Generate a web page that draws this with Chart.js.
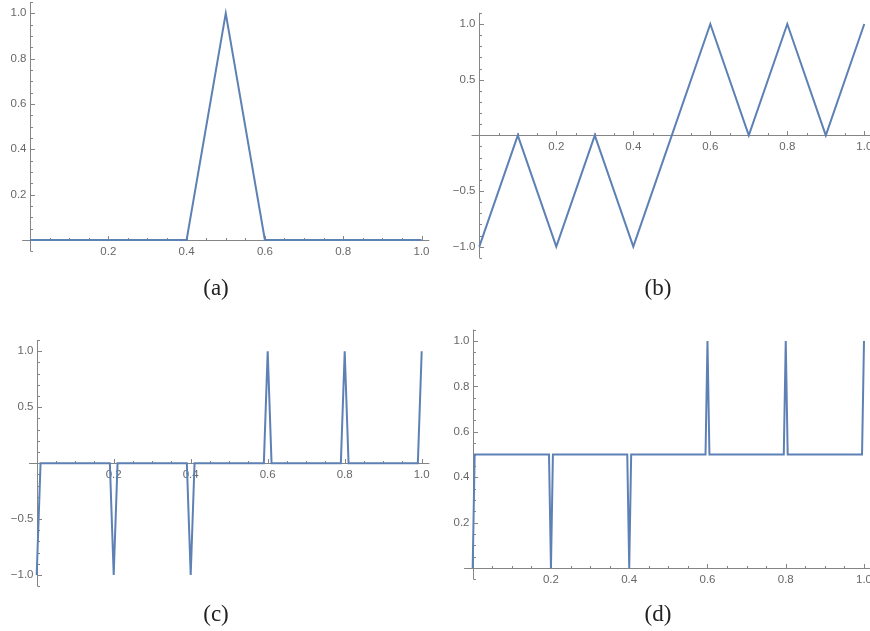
<!DOCTYPE html>
<html>
<head>
<meta charset="utf-8">
<script src="https://cdn.jsdelivr.net/npm/chart.js@4/dist/chart.umd.min.js"></script>
<style>
  html, body { margin: 0; padding: 0; background: #fff; }
  body { width: 870px; height: 631px; position: relative; overflow: hidden; }
  canvas { position: absolute; }
  .cap { position: absolute; font-family: "Liberation Serif", "DejaVu Serif", serif; font-size: 23px; color: #222;
         transform: translate(-50%, -50%); white-space: nowrap; }
</style>
</head>
<body>
<canvas id="ca" width="435" height="300" style="left:0px;top:0px"></canvas>
<canvas id="cb" width="435" height="300" style="left:435px;top:0px"></canvas>
<canvas id="cc" width="435" height="316" style="left:0px;top:315px"></canvas>
<canvas id="cd" width="435" height="316" style="left:435px;top:315px"></canvas>
<div class="cap" style="left:216px;top:288px">(a)</div>
<div class="cap" style="left:658px;top:288px">(b)</div>
<div class="cap" style="left:216px;top:614px">(c)</div>
<div class="cap" style="left:658px;top:614px">(d)</div>
<script>
// ---------- data ----------
const xA = [0, 0.4, 0.5, 0.6, 1.0];
const yA = [0, 0, 1, 0, 0];

const xB = [0, 0.1, 0.2, 0.3, 0.4, 0.5, 0.6, 0.7, 0.8, 0.9, 1.0];
const yB = [-1, 0, -1, 0, -1, 0, 1, 0, 1, 0, 1];

const xC = [0, 0.01, 0.19, 0.2, 0.21, 0.39, 0.4, 0.41, 0.59, 0.6, 0.61, 0.79, 0.8, 0.81, 0.99, 1.0];
const yC = [-1, 0, 0, -1, 0, 0, -1, 0, 0, 1, 0, 0, 1, 0, 0, 1];

const xD = [0, 0.005, 0.195, 0.2, 0.205, 0.395, 0.4, 0.405, 0.595, 0.6, 0.605, 0.795, 0.8, 0.805, 0.995, 1.0];
const yD = [0, 0.5, 0.5, 0, 0.5, 0.5, 0, 0.5, 0.5, 1, 0.5, 0.5, 1, 0.5, 0.5, 1];

// ---------- tick labels ----------
const xTickValues = [0.2, 0.4, 0.6, 0.8, 1.0];
const xTickLabels = ['0.2', '0.4', '0.6', '0.8', '1.0'];
const yTickValuesUnit = [0.2, 0.4, 0.6, 0.8, 1.0];
const yTickLabelsUnit = ['0.2', '0.4', '0.6', '0.8', '1.0'];
const yTickValuesSym = [-1.0, -0.5, 0.5, 1.0];
const yTickLabelsSym = ['\u22121.0', '\u22120.5', '0.5', '1.0'];

const LINE_COLOR = '#5E81B5';
const AXIS_COLOR = '#858585';
const LABEL_COLOR = '#686868';

// Mathematica-style axes crossing at origin, drawn through the chart's scales
const mathAxes = {
  id: 'mathAxes',
  beforeDatasetsDraw(chart, args, o) {
    const ctx = chart.ctx, xs = chart.scales.x, ys = chart.scales.y;
    const px = v => xs.getPixelForValue(v), py = v => ys.getPixelForValue(v);
    const x0 = Math.round(px(0)) + 0.5, y0 = Math.round(py(0)) + 0.5;
    ctx.save();
    ctx.strokeStyle = AXIS_COLOR; ctx.lineWidth = 1;
    ctx.beginPath();
    ctx.moveTo(px(o.xRange[0]), y0); ctx.lineTo(px(o.xRange[1]), y0);
    ctx.moveTo(x0, py(o.yRange[0])); ctx.lineTo(x0, py(o.yRange[1]));
    ctx.stroke();
    // x ticks (pointing up)
    ctx.beginPath();
    const nx = Math.round((o.xRange[1] - 0) / o.xMinor);
    for (let i = 1; i <= nx; i++) {
      const v = +(i * o.xMinor).toFixed(4);
      if (v > o.xRange[1] + 1e-9) break;
      const major = o.xMajor.some(m => Math.abs(m - v) < 1e-6);
      const p = Math.round(px(v)) + 0.5;
      ctx.moveTo(p, y0); ctx.lineTo(p, y0 - (major ? 4.5 : 2.5));
    }
    // y ticks (pointing right)
    const lo = Math.ceil(o.yRange[0] / o.yMinor - 1e-6), hi = Math.floor(o.yRange[1] / o.yMinor + 1e-6);
    for (let i = lo; i <= hi; i++) {
      if (i === 0) continue;
      const v = +(i * o.yMinor).toFixed(4);
      const major = o.yMajor.some(m => Math.abs(m - v) < 1e-6);
      const p = Math.round(py(v)) + 0.5;
      ctx.moveTo(x0, p); ctx.lineTo(x0 + (major ? 4.5 : 2.5), p);
    }
    ctx.stroke();
    // labels
    ctx.fillStyle = LABEL_COLOR;
    ctx.font = '11.5px "Liberation Sans", Arial, sans-serif';
    ctx.textAlign = 'center'; ctx.textBaseline = 'middle';
    o.xMajor.forEach((v, i) => ctx.fillText(o.xLabels[i], px(v), y0 + 11.5));
    ctx.textAlign = 'right';
    o.yMajor.forEach((v, i) => ctx.fillText(o.yLabels[i], x0 - 4, py(v)));
    ctx.restore();
  }
};

function makeChart(id, xs, ys, yMin, yMax, pad, axes) {
  const pts = xs.map((x, i) => ({ x: x, y: ys[i] }));
  return new Chart(document.getElementById(id), {
    type: 'line',
    data: { datasets: [{ data: pts, borderColor: LINE_COLOR, borderWidth: 2, pointRadius: 0,
                         tension: 0, fill: false, clip: false, borderJoinStyle: 'miter' }] },
    options: {
      responsive: false, animation: false, devicePixelRatio: 1,
      layout: { padding: pad },
      plugins: { legend: { display: false }, tooltip: { enabled: false }, mathAxes: axes },
      events: [],
      scales: {
        x: { type: 'linear', min: 0, max: 1, display: false },
        y: { type: 'linear', min: yMin, max: yMax, display: false }
      }
    },
    plugins: [mathAxes]
  });
}

makeChart('ca', xA, yA, 0, 1, { left: 30, right: 13.5, top: 13.3, bottom: 60 },
  { xRange: [-0.02, 1.02], xMinor: 0.05, xMajor: xTickValues, xLabels: xTickLabels,
    yRange: [-0.05, 1.05], yMinor: 0.05, yMajor: yTickValuesUnit, yLabels: yTickLabelsUnit });

makeChart('cb', xB, yB, -1, 1, { left: 44.3, right: 5.7, top: 24, bottom: 53.3 },
  { xRange: [-0.02, 1.03], xMinor: 0.05, xMajor: xTickValues, xLabels: xTickLabels,
    yRange: [-1.1, 1.1], yMinor: 0.1, yMajor: yTickValuesSym, yLabels: yTickLabelsSym });

makeChart('cc', xC, yC, -1, 1, { left: 36.7, right: 13.3, top: 36.3, bottom: 56 },
  { xRange: [-0.02, 1.02], xMinor: 0.05, xMajor: xTickValues, xLabels: xTickLabels,
    yRange: [-1.1, 1.1], yMinor: 0.1, yMajor: yTickValuesSym, yLabels: yTickLabelsSym });

makeChart('cd', xD, yD, 0, 1, { left: 37.7, right: 6, top: 26, bottom: 63 },
  { xRange: [-0.022, 1.03], xMinor: 0.05, xMajor: xTickValues, xLabels: xTickLabels,
    yRange: [-0.05, 1.05], yMinor: 0.05, yMajor: yTickValuesUnit, yLabels: yTickLabelsUnit });
</script>
</body>
</html>
